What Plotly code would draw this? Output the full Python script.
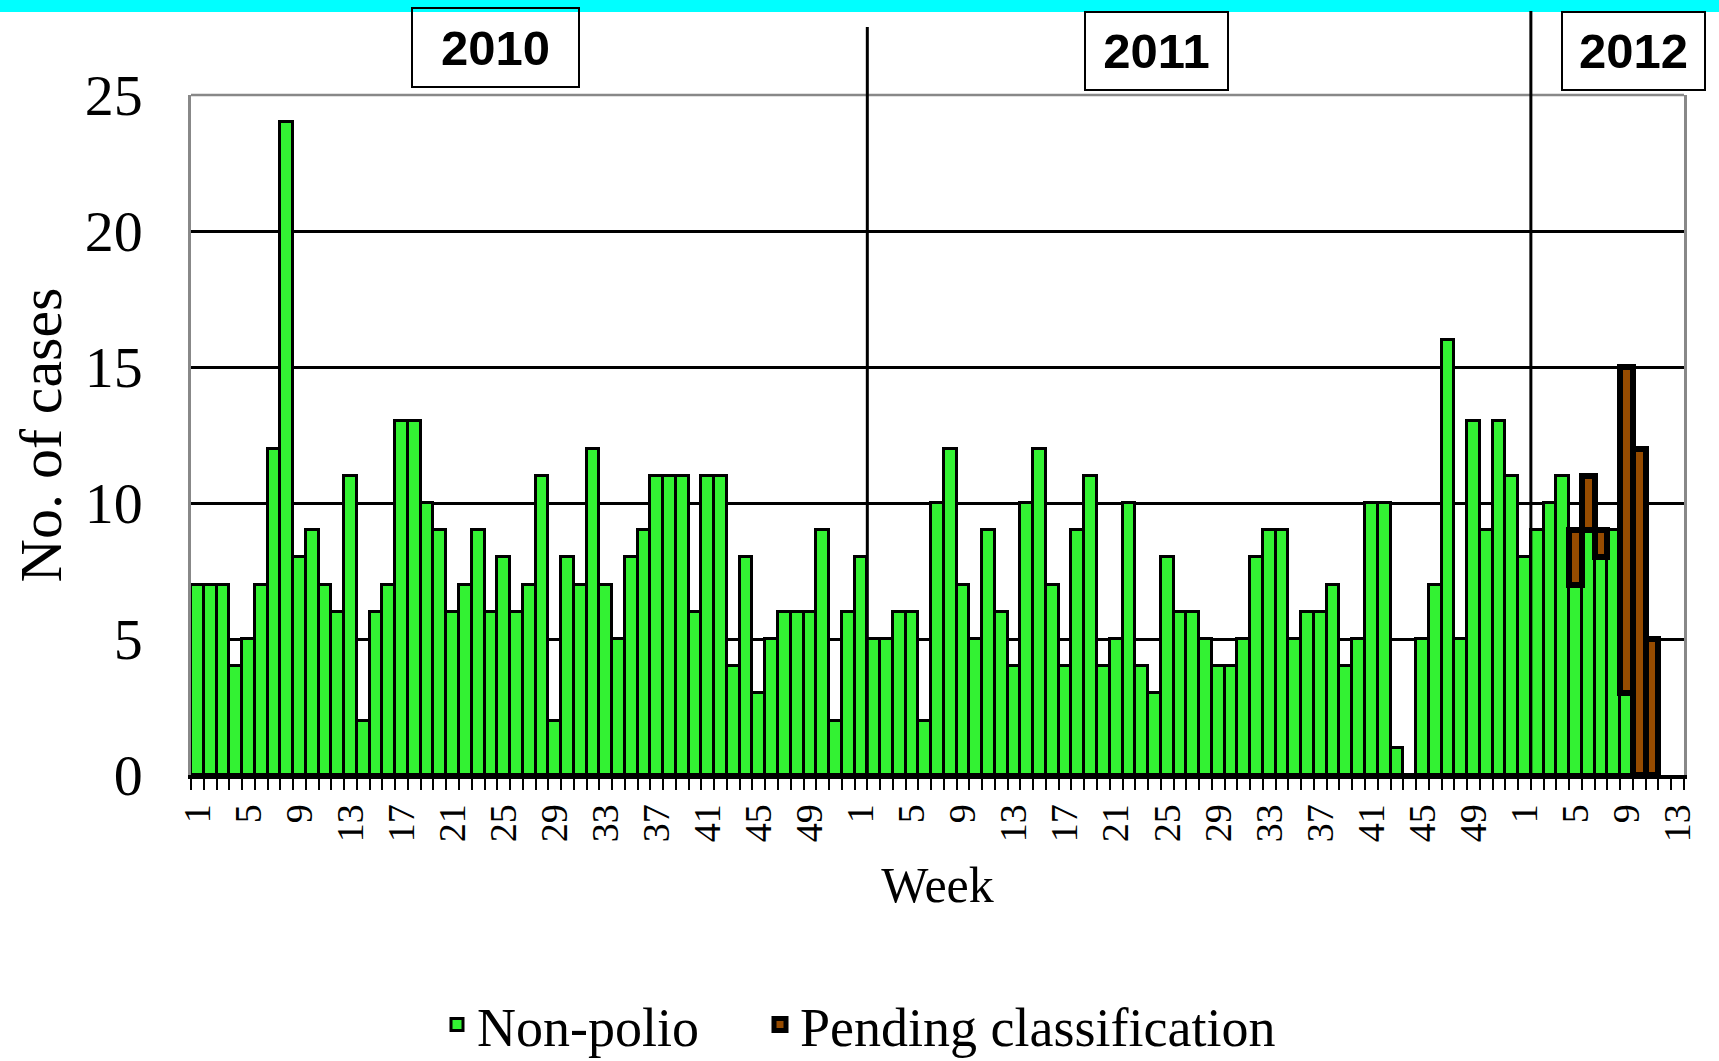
import plotly.graph_objects as go

# ---------------- data ----------------
years = ["2010", "2011", "2012"]
weeks_2010 = list(range(1, 53))
weeks_2011 = list(range(1, 53))
weeks_2012 = list(range(1, 14))

non_polio_2010 = [7, 7, 7, 4, 5, 7, 12, 24, 8, 9,
                  7, 6, 11, 2, 6, 7, 13, 13, 10, 9,
                  6, 7, 9, 6, 8, 6, 7, 11, 2, 8,
                  7, 12, 7, 5, 8, 9, 11, 11, 11, 6,
                  11, 11, 4, 8, 3, 5, 6, 6, 6, 9,
                  2, 6]
non_polio_2011 = [8, 5, 5, 6, 6, 2, 10, 12, 7, 5,
                  9, 6, 4, 10, 12, 7, 4, 9, 11, 4,
                  5, 10, 4, 3, 8, 6, 6, 5, 4, 4,
                  5, 8, 9, 9, 5, 6, 6, 7, 4, 5,
                  10, 10, 1, 0, 5, 7, 16, 5, 13, 9,
                  13, 11]
non_polio_2012 = [8, 9, 10, 11, 7, 9, 8, 9, 3, None, None, None, None]

pending_2010 = [None] * 52
pending_2011 = [None] * 52
pending_2012 = [None, None, None, None, 2, 2, 1, None, 12, 12, 5, None, None]

# ---------------- derived ----------------
week_labels = weeks_2010 + weeks_2011 + weeks_2012
pos = list(range(len(week_labels)))
non_polio = non_polio_2010 + non_polio_2011 + non_polio_2012
pending = pending_2010 + pending_2011 + pending_2012
tick_idx = [i for i, w in enumerate(week_labels) if (w - 1) % 4 == 0]
tick_txt = [str(week_labels[i]) for i in tick_idx]
year_start = [0, len(weeks_2010), len(weeks_2010) + len(weeks_2011)]

SERIF = "Liberation Serif, Times New Roman, serif"
SANS = "Liberation Sans, Arial, sans-serif"

fig = go.Figure()
fig.add_trace(go.Bar(
    x=pos, y=non_polio, name="Non-polio", legend="legend",
    marker=dict(color="#33F233", line=dict(color="black", width=3)),
))
fig.add_trace(go.Bar(
    x=pos, y=pending, name="Pending classification", legend="legend2",
    marker=dict(color="#964B00", line=dict(color="black", width=6)),
))

L, R, T, B = 191, 1684, 95, 775
W, H = R - L, B - T


def xp(px):
    return (px - L) / W


def yp(py):
    return (B - py) / H


shapes = [
    # cyan strip at top
    dict(type="rect", xref="paper", yref="paper", x0=xp(-10), x1=xp(1730),
         y0=yp(12), y1=yp(-10), fillcolor="#00FFFF", line=dict(width=0), layer="below"),
    # top plot border
    dict(type="line", xref="paper", yref="paper", x0=0, x1=1, y0=1, y1=1,
         line=dict(color="#888888", width=2.5)),
    # year separators
    dict(type="line", xref="x", yref="paper", x0=year_start[1] + 0.5, x1=year_start[1] + 0.5,
         y0=0, y1=yp(27), line=dict(color="black", width=3)),
    dict(type="line", xref="x", yref="paper", x0=year_start[2] + 0.5, x1=year_start[2] + 0.5,
         y0=0, y1=yp(11), line=dict(color="black", width=3)),
]

box_cfg = [(495.5, 47.5, 165, 77), (1156.5, 51, 141, 76), (1633, 51, 141, 76)]
annotations = []
for yr, (cx, cy, bw, bh) in zip(years, box_cfg):
    annotations.append(dict(
        text="<b>%s</b>" % yr, xref="paper", yref="paper", x=xp(cx), y=yp(cy),
        xanchor="center", yanchor="middle", showarrow=False,
        font=dict(family=SANS, size=49, color="black"),
        width=bw, height=bh, borderwidth=2, bordercolor="black", borderpad=0,
        bgcolor="rgba(0,0,0,0)", align="center", valign="middle"))

fig.update_layout(
    width=1719, height=1061,
    margin=dict(l=L, r=1719 - R, t=T, b=1061 - B, autoexpand=False),
    paper_bgcolor="white", plot_bgcolor="white",
    barmode="stack", bargap=0,
    font=dict(family=SERIF, color="black"),
    shapes=shapes, annotations=annotations,
    showlegend=True,
    legend=dict(orientation="h", x=xp(437), xanchor="left",
                y=yp(1025), yanchor="middle",
                font=dict(family=SERIF, size=54, color="black"),
                bgcolor="rgba(0,0,0,0)"),
    legend2=dict(orientation="h", x=xp(760), xanchor="left",
                 y=yp(1025), yanchor="middle",
                 font=dict(family=SERIF, size=54, color="black"),
                 bgcolor="rgba(0,0,0,0)"),
    xaxis=dict(
        range=[-0.5, len(pos) - 0.5], tickmode="array", tickvals=tick_idx, ticktext=tick_txt,
        tickangle=-90, tickfont=dict(family=SERIF, size=38, color="black"),
        ticks="", ticklabelstandoff=10,
        showline=True, linecolor="black", linewidth=4, showgrid=False, zeroline=False,
        minor=dict(tickmode="array", tickvals=[i - 0.5 for i in range(len(pos) + 1)],
                   ticks="outside", ticklen=11, tickwidth=2, tickcolor="black", showgrid=False),
        title=dict(text="Week", font=dict(family=SERIF, size=50, color="black"), standoff=27),
    ),
    yaxis=dict(
        range=[0, 25], tickmode="linear", tick0=0, dtick=5,
        tickfont=dict(family=SERIF, size=58, color="black"), ticks="", ticklabelstandoff=34,
        showgrid=True, gridcolor="black", gridwidth=2.5, zeroline=False,
        showline=True, linecolor="#888888", linewidth=2.5, mirror=True,
        title=dict(text="No. of cases", font=dict(family=SERIF, size=60, color="black"), standoff=4),
    ),
)

fig.write_html("out.html", config={"displayModeBar": False},
               post_script="document.body.style.margin='0';")
